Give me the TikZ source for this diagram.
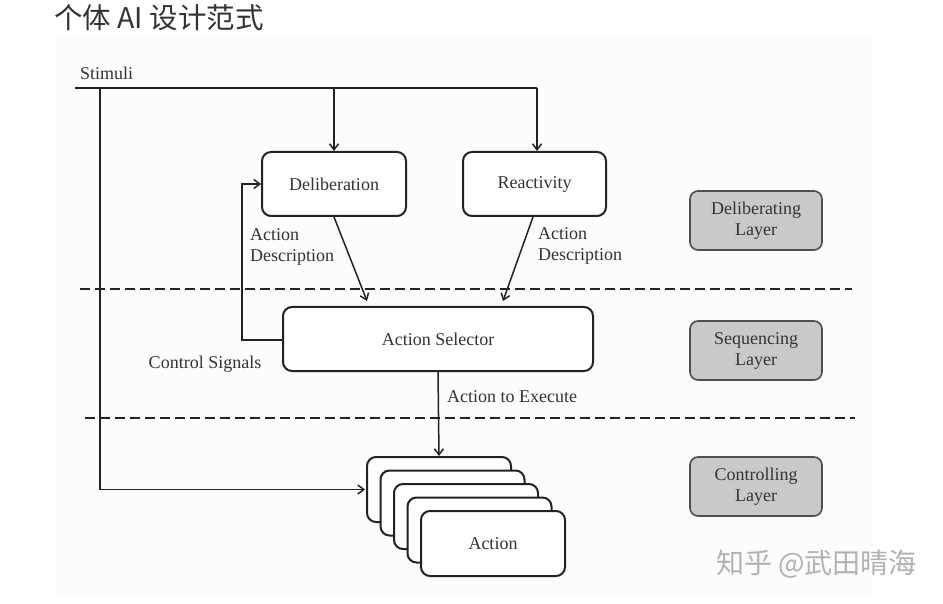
\documentclass[tikz,border=0pt]{standalone}
\usepackage{fontspec}
\setmainfont{Liberation Serif}
\newfontfamily\cjk{Noto Sans CJK SC}
\usetikzlibrary{arrows.meta,calc}
\definecolor{txt}{HTML}{333333}
\definecolor{ln}{HTML}{222222}
\definecolor{layerfill}{HTML}{C9C9C9}
\tikzset{
  box/.style={draw=ln,line width=2pt,rounded corners=9pt,fill=white,text=txt,font=\fontsize{18}{21}\selectfont},
  layerbox/.style={draw=ln!80,line width=1.6pt,rounded corners=8pt,fill=layerfill,text=txt,minimum width=132pt,minimum height=59pt,align=center,font=\fontsize{18}{21}\selectfont},
  conn/.style={draw=ln,line width=1.5pt},
  arr/.style={conn,-{Straight Barb[length=6pt,width=9pt,line width=1.5pt]}},
  sep/.style={draw=ln,line width=2pt,dash pattern=on 10pt off 5pt},
  lbl/.style={text=txt,font=\fontsize{18}{21}\selectfont,inner sep=0pt}
}
\begin{document}
\begin{tikzpicture}[x=1pt,y=-1pt]
\useasboundingbox (0,0) rectangle (943,604);
\fill[white] (0,0) rectangle (943,604);
\fill[black!1.2] (55,38) rectangle (872,597);
% title
\node[anchor=west,text=txt,font={\cjk\fontsize{28.5}{30}\selectfont},inner sep=0pt] (title) at (54,18) {个体 AI 设计范式};
% boxes
\node[box,minimum width=144pt,minimum height=64pt] (delib) at (334,184) {Deliberation};
\node[box,minimum width=143pt,minimum height=64pt] (react) at (534.5,184) {\strut Reactivity};
\node[box,minimum width=310pt,minimum height=64pt] (sel) at (438,339) {Action Selector};
\foreach \i in {0,...,4}{
  \node[box,minimum width=144pt,minimum height=65pt] (act\i) at ({439+13.5*\i},{489.5+13.5*\i}) {\ifnum\i=4 Action\fi};
}
% layer boxes
\node[layerbox] (dl) at (756,220.5) {Deliberating\\Layer};
\node[layerbox] (sl) at (756,350.5) {Sequencing\\Layer};
\node[layerbox] (cl) at (756,486.5) {Controlling\\Layer};
% separators
\coordinate (s1a) at (80,289); \coordinate (s1b) at (852,289);
\coordinate (s2a) at (85,418); \coordinate (s2b) at (855,418);
\draw[sep] (s1a) -- (s1b);
\draw[sep] (s2a) -- (s2b);
% stimuli
\node[lbl,anchor=south west] (stim) at (80,80) {Stimuli};
\coordinate (st0) at (75,88);
\coordinate (st1) at (537,88);
\coordinate (stL) at (100,88);
\draw[conn] (st0) -- (st1);
\draw[arr] (delib.north |- st0) -- (delib.north);
\draw[arr] (st1) -- (react.north -| st1);
\draw[arr] (stL) -- (stL |- act0.west) -- ([xshift=-1pt]act0.west);
% action descriptions
\coordinate (d1) at (367,301);
\coordinate (d2) at (503,301);
\draw[arr] (delib.south) -- (d1);
\draw[arr] ([xshift=-1.5pt]react.south) -- (d2);
\node[lbl,anchor=north west,align=left] (ad1) at (250,228) {Action\\Description};
\node[lbl,anchor=north west,align=left] (ad2) at (538,227) {Action\\Description};
% control signals feedback
\coordinate (fb) at (242,340);
\draw[arr] (sel.west |- fb) -- (fb) -- (fb |- delib.west) -- (delib.west);
\node[lbl] (cs) at (205,364) {Control Signals};
% action to execute
\draw[arr] (sel.south) -- (act0.north);
\node[lbl,anchor=west] (ate) at (447,397) {Action to Execute};
% watermark
\node[anchor=west,text=black!30,font={\cjk\fontsize{28}{30}\selectfont},inner sep=0pt] (wm) at (716,564) {知乎 @武田晴海};
\end{tikzpicture}
\end{document}
